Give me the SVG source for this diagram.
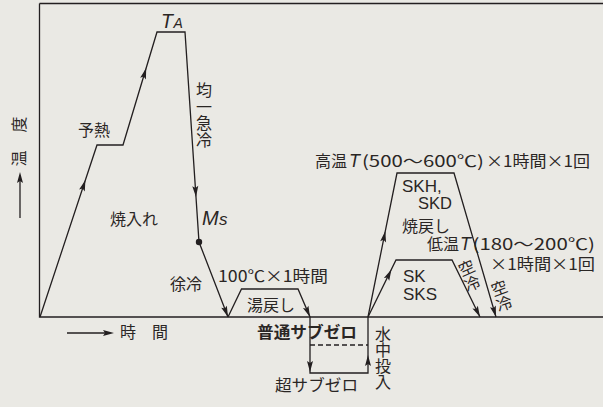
<svg xmlns="http://www.w3.org/2000/svg" xmlns:xlink="http://www.w3.org/1999/xlink" width="603" height="407" viewBox="0 0 603 407">
<style>
.t{font-family:"Noto Sans CJK JP","Liberation Sans",sans-serif;font-size:16px;fill:#2a2624}
.v{writing-mode:vertical-rl;font-size:16px}
.l{font-family:"Liberation Sans","Noto Sans CJK JP",sans-serif;fill:#2a2624}
.i{font-family:"Liberation Sans",sans-serif;font-style:italic;fill:#2a2624}
.b{font-weight:bold}
.ln{fill:none;stroke:#231f20;stroke-width:1.3}
</style>
<defs>
<path id="ah" d="M0,0 L-11,-3 L-9,0 L-11,3 Z" fill="#231f20"/>
</defs>
<rect width="603" height="407" fill="#eae9e4"/>
<g id="connectors" class="ln">
<path d="M39.5,3.5 H603 M39.5,3.5 V317 H603"/>
<path d="M40,317 L97,145 L123,145 L157,32 L185,32 L199,242 L228,317"/>
<path d="M228,317 L241.5,289 L298,289 L310,317 V373 H368 V317"/>
<path d="M310,345 H368" stroke-dasharray="5,3"/>
<path d="M368,317 L397,173 L454,173 L496,317"/>
<path d="M368,317 L396,260 L452,260 L480,317"/>
<path d="M20,218 V176"/>
<path d="M67,333 H110"/>
</g>
<g id="arrowheads">
<use xlink:href="#ah" transform="translate(85.4,180) rotate(-71.7)"/>
<use xlink:href="#ah" transform="translate(146.2,68) rotate(-73.3)"/>
<use xlink:href="#ah" transform="translate(196,197) rotate(86.2)"/>
<use xlink:href="#ah" transform="translate(228,317) rotate(68.9)"/>
<use xlink:href="#ah" transform="translate(310,317) rotate(66.8)"/>
<use xlink:href="#ah" transform="translate(310,372) rotate(90)"/>
<use xlink:href="#ah" transform="translate(368,355) rotate(-90)"/>
<use xlink:href="#ah" transform="translate(385.3,231) rotate(-78.6)"/>
<use xlink:href="#ah" transform="translate(391.4,269.5) rotate(-63.8)"/>
<use xlink:href="#ah" transform="translate(480,317) rotate(63.8)"/>
<use xlink:href="#ah" transform="translate(496,317) rotate(73.7)"/>
<use xlink:href="#ah" transform="translate(20,172) rotate(-90)"/>
<use xlink:href="#ah" transform="translate(114,333)"/>
</g>
<circle id="ms-point" cx="199" cy="242" r="3.2" fill="#231f20"/>
<g id="axis-y">
<text class="t" text-anchor="middle" transform="translate(19,158.5) rotate(-90)" y="6">温</text>
<text class="t" text-anchor="middle" transform="translate(19,124.5) rotate(-90)" y="6">度</text>
</g>
<g id="axis-x"><text class="t" x="120" y="338">時　間</text></g>
<g id="ta"><text class="i" y="28"><tspan x="161" font-size="19.5">T</tspan><tspan x="173.5" font-size="14">A</tspan></text></g>
<g id="preheat"><text class="t" x="78" y="136">予熱</text></g>
<g id="quench-label"><text class="t v" x="204" y="82" letter-spacing="0.7">均一急冷</text></g>
<g id="yakiire"><text class="t" x="110" y="225">焼入れ</text></g>
<g id="ms"><text class="i" y="225"><tspan x="202" font-size="20">M</tspan><tspan x="219" font-size="17">s</tspan></text></g>
<g id="jorei"><text class="t" x="170" y="290">徐冷</text></g>
<g id="yumodoshi">
<text class="t" x="218" y="282" font-size="17" textLength="110" lengthAdjust="spacingAndGlyphs">100℃×1時間</text>
<text class="t" x="247" y="311">湯戻し</text>
</g>
<g id="subzero">
<text class="t b" x="257" y="338" font-size="17" textLength="100" lengthAdjust="spacingAndGlyphs">普通サブゼロ</text>
<text class="t" x="275" y="391" font-size="16.5" textLength="83" lengthAdjust="spacingAndGlyphs">超サブゼロ</text>
<text class="t v" x="383" y="326">水中投入</text>
</g>
<g id="high-temp">
<text class="t" x="315" y="167" font-size="16.5">高温</text>
<text class="i" x="349" y="167" font-size="18">T</text>
<text class="t" x="362" y="167" font-size="17" textLength="122" lengthAdjust="spacingAndGlyphs">(500〜600℃)</text>
<text class="t" x="486" y="167" font-size="17" textLength="104" lengthAdjust="spacingAndGlyphs">×1時間×1回</text>
<text class="l" font-size="17"><tspan x="402" y="192">SKH,</tspan><tspan x="418" y="209" font-size="16.5">SKD</tspan><tspan class="t" x="402" y="231.5" font-size="16">焼戻し</tspan></text>
</g>
<g id="low-temp">
<text class="t" font-size="17"><tspan x="427" y="250" font-size="16">低温</tspan><tspan class="i" x="460" y="250" font-size="18">T</tspan><tspan x="472.5" y="250" textLength="122.5" lengthAdjust="spacingAndGlyphs">(180〜200℃)</tspan><tspan x="490" y="270" textLength="105" lengthAdjust="spacingAndGlyphs">×1時間×1回</tspan></text>
<text class="l" font-size="17"><tspan x="403" y="282">SK</tspan><tspan x="403" y="300">SKS</tspan></text>
</g>
<g id="air-cool-1">
<text class="t" font-size="14" text-anchor="middle" transform="translate(467,269) rotate(-24)" y="5">空</text>
<text class="t" font-size="14" text-anchor="middle" transform="translate(472.5,284.5) rotate(-24)" y="5">冷</text>
</g>
<g id="air-cool-2">
<text class="t" font-size="14" text-anchor="middle" transform="translate(499.5,289) rotate(-20)" y="5">空</text>
<text class="t" font-size="14" text-anchor="middle" transform="translate(504.5,304.5) rotate(-20)" y="5">冷</text>
</g>
</svg>
